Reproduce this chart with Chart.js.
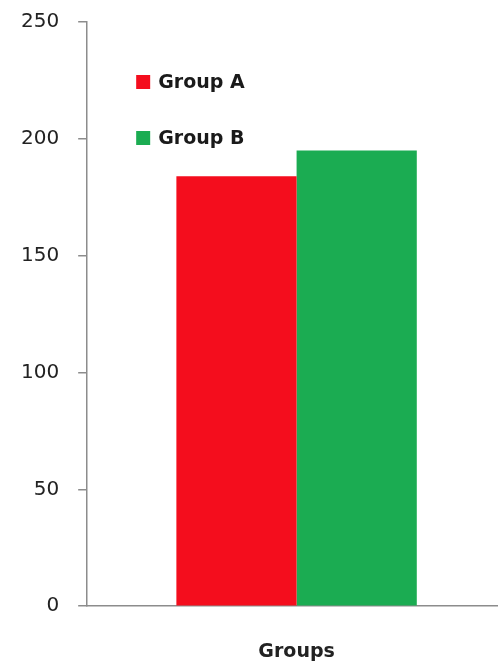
<!DOCTYPE html>
<html>
<head>
<meta charset="utf-8">
<script src="https://cdn.jsdelivr.net/npm/chart.js@4"></script>
<style>
  html, body { margin: 0; padding: 0; background: #fff; overflow: hidden; }
  #wrap { width: 506px; height: 665px; position: relative; }
</style>
</head>
<body>
<div id="wrap"><canvas id="grafico"></canvas></div>
<script>
const categorias = [""];
const grupoA = [184];
const grupoB = [195];
const nomes = ["Group A", "Group B"];
const cores = ["#F40D1D", "#1BAC52"];

// legenda desenhada dentro da area do grafico
const legendaInterna = {
  id: "legendaInterna",
  afterDraw(chart) {
    const c = chart.ctx;
    const area = chart.chartArea;
    c.save();
    c.font = "bold 19px 'DejaVu Sans'";
    c.textBaseline = "middle";
    chart.data.datasets.forEach((ds, i) => {
      const x = area.left + 49;
      const y = area.top + 60 + i * 56;
      c.fillStyle = ds.backgroundColor;
      c.fillRect(x, y - 7, 14, 14);
      c.fillStyle = "#1a1a1a";
      c.fillText(ds.label, x + 22, y + 1);
    });
    c.restore();
  },
};

const ctx = document.getElementById("grafico").getContext("2d");

let chart = new Chart(ctx, {
  type: "bar",
  data: {
    labels: categorias,
    datasets: [
      { label: nomes[0], data: grupoA, backgroundColor: cores[0] },
      { label: nomes[1], data: grupoB, backgroundColor: cores[1] },
    ],
  },
  options: {
    responsive: true,
    maintainAspectRatio: false,
    animation: false,
    categoryPercentage: 0.574,
    barPercentage: 1,
    layout: { padding: { top: 0, left: 2, right: 0, bottom: 2 } },
    plugins: {
      legend: { display: false },
      tooltip: { enabled: false },
    },
    scales: {
      x: {
        grid: { display: false, drawTicks: false },
        border: { color: "#8c8c8c", width: 1.5 },
        ticks: { display: false },
        title: {
          display: true,
          text: "Groups",
          color: "#222",
          font: { family: "DejaVu Sans", size: 19, weight: "bold" },
          padding: { top: 34, bottom: 0 },
        },
      },
      y: {
        min: 0,
        max: 250,
        afterFit(scale) {
          scale.paddingTop = 22;
        },
        ticks: {
          stepSize: 50,
          color: "#222",
          padding: 19,
          font: { family: "DejaVu Sans", size: 20 },
        },
        grid: {
          drawOnChartArea: false,
          drawTicks: true,
          tickLength: 9,
          color: "#8c8c8c",
          lineWidth: 1.5,
        },
        border: { color: "#8c8c8c", width: 1.5 },
      },
    },
  },
  plugins: [legendaInterna],
});
</script>
</body>
</html>
